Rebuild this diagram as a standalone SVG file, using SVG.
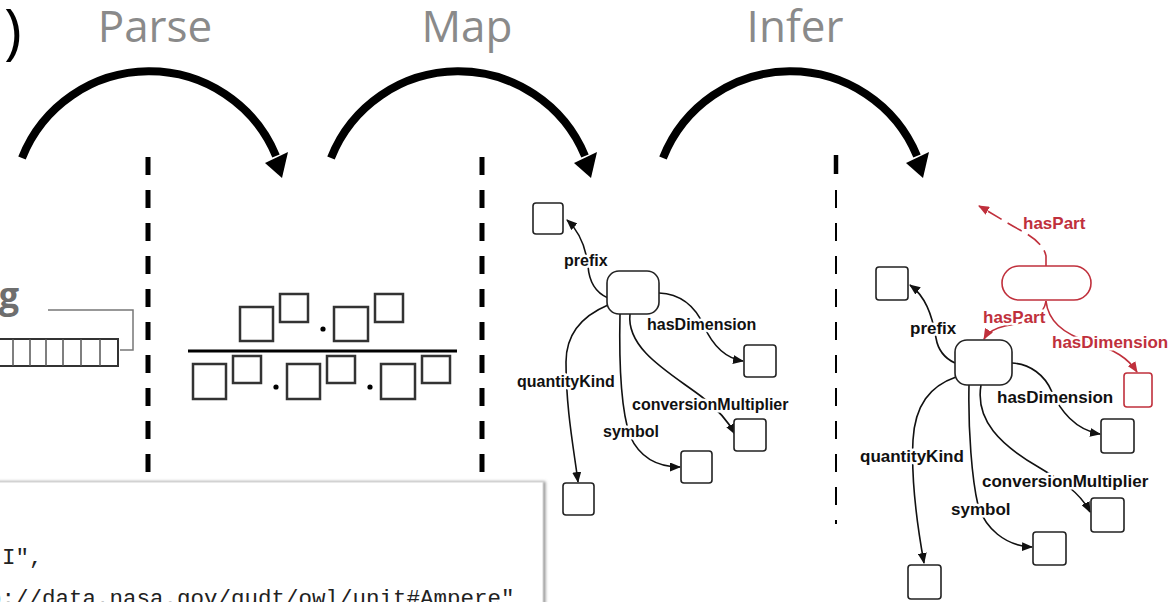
<svg xmlns="http://www.w3.org/2000/svg" width="1173" height="602" viewBox="0 0 1173 602">
  <style>
    .title { font-family: "Open Sans", "Liberation Sans", sans-serif; font-size: 44px; fill: #8a8a8a; text-anchor: middle; }
    .bigarc { fill: none; stroke: #000; stroke-width: 8; }
    .sep { stroke: #000; stroke-width: 5; stroke-dasharray: 18 15; }
    .sq { fill: #fff; stroke: #333; stroke-width: 2.5; }
    .box { fill: #fff; stroke: #222; stroke-width: 1.6; }
    .rbox { fill: #fff; stroke: #c0303c; stroke-width: 1.6; }
    .edge { fill: none; stroke: #111; stroke-width: 1.6; marker-end: url(#arr); }
    .redge { fill: none; stroke: #c0303c; stroke-width: 1.6; marker-end: url(#rarr); }
    .lbl { font-family: "Liberation Sans", Arial, sans-serif; font-weight: bold; fill: #111; stroke: #fff; stroke-width: 5; stroke-linejoin: round; paint-order: stroke; }
    .m { font-size: 16px; }
    .i { font-size: 17px; }
    .red { fill: #c0303c; }
    .code { font-family: "Liberation Mono", "DejaVu Sans Mono", monospace; font-size: 22.5px; fill: #222; }
  </style>
  <defs>
    <marker id="arr" markerUnits="userSpaceOnUse" markerWidth="11" markerHeight="9" refX="10" refY="4.5" orient="auto">
      <path d="M0,0 L11,4.5 L0,9 z" fill="#111"/>
    </marker>
    <marker id="rarr" markerUnits="userSpaceOnUse" markerWidth="11" markerHeight="9" refX="10" refY="4.5" orient="auto">
      <path d="M0,0 L11,4.5 L0,9 z" fill="#c0303c"/>
    </marker>
    <!-- one step arrow: arc plus head -->
    <g id="step">
      <path class="bigarc" d="M 22 158 A 137 137 0 0 1 276 156"/>
      <polygon points="265,163 288,152 282,178" fill="#000"/>
    </g>
    <filter id="shadow" x="-5%" y="-20%" width="110%" height="140%">
      <feDropShadow dx="2" dy="0" stdDeviation="1.5" flood-color="#777" flood-opacity="0.8"/>
    </filter>
  </defs>

  <rect width="1173" height="602" fill="#fff"/>

  <!-- stage titles and arcs -->
  <text x="4" y="52" font-family="Open Sans, sans-serif" font-size="60" fill="#000">)</text>
  <text class="title" x="155" y="42">Parse</text>
  <text class="title" x="467" y="42">Map</text>
  <text class="title" x="795" y="42">Infer</text>
  <use href="#step"/>
  <use href="#step" x="309"/>
  <use href="#step" x="641"/>

  <!-- stage separators -->
  <line class="sep" x1="148" y1="157" x2="148" y2="474"/>
  <line class="sep" x1="482" y1="157" x2="482" y2="474"/>
  <line x1="836" y1="155" x2="836" y2="174" stroke="#000" stroke-width="4.5"/>
  <line x1="836" y1="190" x2="836" y2="524" stroke="#000" stroke-width="2" stroke-dasharray="18 15"/>

  <!-- string input -->
  <g id="string-input">
    <text x="19" y="308" text-anchor="end" font-family="Open Sans, sans-serif" font-weight="bold" font-size="36" fill="#6e6e6e">g</text>
    <polyline points="48,310 133,310 133,350 120,350" fill="none" stroke="#777" stroke-width="1.5"/>
    <rect x="-5" y="339" width="123" height="27" fill="#fff" stroke="#333" stroke-width="2"/>
    <g stroke="#555" stroke-width="1.5">
      <line x1="13" y1="339" x2="13" y2="366"/>
      <line x1="30" y1="339" x2="30" y2="366"/>
      <line x1="46" y1="339" x2="46" y2="366"/>
      <line x1="63" y1="339" x2="63" y2="366"/>
      <line x1="81" y1="339" x2="81" y2="366"/>
      <line x1="100" y1="339" x2="100" y2="366"/>
    </g>
  </g>

  <!-- parsed unit expression -->
  <g id="unit-fraction">
    <rect class="sq" x="240" y="307" width="33" height="34"/>
    <rect class="sq" x="280" y="294" width="28" height="28"/>
    <circle cx="323" cy="329" r="2.6"/>
    <rect class="sq" x="334" y="307" width="34" height="34"/>
    <rect class="sq" x="375" y="294" width="28" height="28"/>
    <line x1="188" y1="351" x2="457" y2="351" stroke="#000" stroke-width="3"/>
    <rect class="sq" x="193" y="364" width="33" height="35"/>
    <rect class="sq" x="233" y="356" width="28" height="27"/>
    <circle cx="276" cy="387" r="2.6"/>
    <rect class="sq" x="287" y="364" width="33" height="35"/>
    <rect class="sq" x="327" y="356" width="28" height="27"/>
    <circle cx="370" cy="387" r="2.6"/>
    <rect class="sq" x="381" y="364" width="34" height="35"/>
    <rect class="sq" x="422" y="356" width="28" height="27"/>
  </g>

  <!-- code listing -->
  <g id="code-listing">
    <rect x="-10" y="482" width="553" height="140" fill="#fff" stroke="#d4d4d4" stroke-width="1" filter="url(#shadow)"/>
    <text class="code" x="2" y="564">I",</text>
    <text class="code" x="-12" y="605">p://data.nasa.gov/qudt/owl/unit#Ampere"</text>
  </g>

  <!-- connectors -->
  <g id="connectors">
    <path class="edge" d="M 608 298 C 594 292, 589 280, 588 266 C 586 248, 580 232, 567 220"/>
    <path class="edge" d="M 659 293 C 682 294, 696 308, 704 326 C 712 344, 724 358, 743 361"/>
    <path class="edge" d="M 608 305 C 582 316, 566 335, 566 362 C 566 410, 574 450, 578 482"/>
    <path class="edge" d="M 620 314 C 619 360, 621 410, 630 436 C 640 458, 658 467, 680 467"/>
    <path class="edge" d="M 630 314 C 626 350, 672 374, 702 397 C 716 408, 728 421, 735 434"/>

    <path class="edge" d="M 955 363 C 944 358, 938 350, 936 338 C 932 314, 925 296, 910 285"/>
    <path class="edge" d="M 1012 363 C 1030 364, 1045 375, 1052 392 C 1060 410, 1075 430, 1100 434"/>
    <path class="edge" d="M 956 377 C 930 386, 915 405, 913 440 C 911 480, 918 530, 924 563"/>
    <path class="edge" d="M 969 385 C 968 430, 972 480, 978 505 C 985 528, 1005 546, 1032 547"/>
    <path class="edge" d="M 981 385 C 975 420, 1000 445, 1040 468 C 1060 480, 1080 492, 1090 512"/>

    <path class="redge" stroke-dasharray="16 7" d="M 1046 266 L 1046 256 C 1044 246, 1035 238, 1020 230 C 1005 222, 990 212, 979 206"/>
    <path class="redge" d="M 1046 301 C 1044 316, 1030 322, 1005 326 C 995 328, 988 332, 984 339"/>
    <path class="redge" d="M 1046 301 C 1048 320, 1062 334, 1090 342 C 1115 350, 1128 358, 1137 372"/>
  </g>

  <!-- mapped graph -->
  <g id="map-unit"><rect class="box" x="607" y="271" width="52" height="43" rx="12"/></g>
  <g id="map-prefix"><rect class="box" x="533" y="203" width="30" height="31" rx="3"/></g>
  <g id="map-dimension"><rect class="box" x="744" y="345" width="32" height="32" rx="3"/></g>
  <g id="map-multiplier"><rect class="box" x="734" y="419" width="32" height="32" rx="3"/></g>
  <g id="map-symbol"><rect class="box" x="681" y="451" width="31" height="32" rx="3"/></g>
  <g id="map-quantity"><rect class="box" x="563" y="483" width="31" height="32" rx="3"/></g>
  <g id="map-labels">
    <text class="lbl m" x="564" y="266">prefix</text>
    <text class="lbl m" x="647" y="330">hasDimension</text>
    <text class="lbl m" x="517" y="387">quantityKind</text>
    <text class="lbl m" x="632" y="410">conversionMultiplier</text>
    <text class="lbl m" x="603" y="437">symbol</text>
  </g>

  <!-- inferred graph -->
  <g id="infer-unit"><rect class="box" x="955" y="340" width="57" height="45" rx="12"/></g>
  <g id="infer-prefix"><rect class="box" x="876" y="267" width="32" height="33" rx="3"/></g>
  <g id="infer-dimension"><rect class="box" x="1101" y="419" width="33" height="34" rx="3"/></g>
  <g id="infer-multiplier"><rect class="box" x="1091" y="498" width="33" height="34" rx="3"/></g>
  <g id="infer-symbol"><rect class="box" x="1033" y="532" width="33" height="33" rx="3"/></g>
  <g id="infer-quantity"><rect class="box" x="908" y="565" width="33" height="34" rx="3"/></g>
  <g id="infer-part"><rect class="rbox" x="1002" y="266" width="89" height="34" rx="17"/></g>
  <g id="infer-part-dimension"><rect class="rbox" x="1124" y="373" width="28" height="34" rx="3"/></g>
  <g id="infer-labels">
    <text class="lbl i" x="910" y="334">prefix</text>
    <text class="lbl i" x="997" y="403">hasDimension</text>
    <text class="lbl i" x="860" y="462">quantityKind</text>
    <text class="lbl i" x="982" y="487">conversionMultiplier</text>
    <text class="lbl i" x="951" y="515">symbol</text>
    <text class="lbl i red" x="1023" y="229">hasPart</text>
    <text class="lbl i red" x="983" y="323">hasPart</text>
    <text class="lbl i red" x="1052" y="348">hasDimension</text>
  </g>
</svg>
